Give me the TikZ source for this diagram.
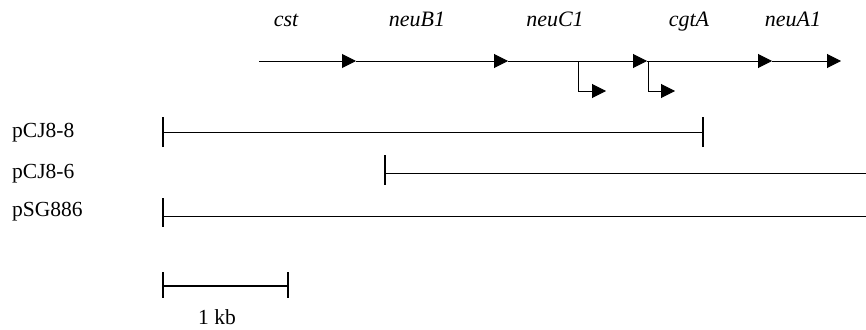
\documentclass[tikz,border=0pt]{standalone}
\usepackage{fontspec}
\setmainfont{Liberation Serif}
\usetikzlibrary{arrows.meta}
\tikzset{
  geneline/.style={line width=1pt,-{Triangle[length=14pt,width=14pt]}},
  plasmid/.style={line width=1pt},
  tick/.style={line width=1.5pt},
  genelabel/.style={font=\fontsize{22}{26}\selectfont\itshape,anchor=base,inner sep=0pt},
  leftlabel/.style={font=\fontsize{21.5}{26}\selectfont,anchor=base west,inner sep=0pt}
}
\begin{document}
\begin{tikzpicture}[x=1pt,y=-1pt]
\useasboundingbox (0,0) rectangle (866,329);
% gene map
\coordinate (g0) at (259,61);
\coordinate (g1) at (356,61);
\coordinate (g2) at (508,61);
\coordinate (g3) at (647,61);
\coordinate (g4) at (772,61);
\coordinate (g5) at (841,61);
\draw[geneline] (g0) -- (g1);
\draw[geneline] (g1) -- (g2);
\draw[geneline] (g2) -- (g3);
\draw[geneline] (g3) -- (g4);
\draw[geneline] (g4) -- (g5);
% promoters
\coordinate (p1a) at (578,61);
\coordinate (p1b) at (606,91);
\coordinate (p2a) at (648,61);
\coordinate (p2b) at (675,91);
\draw[geneline] (p1a) |- (p1b);
\draw[geneline] (p2a) |- (p2b);
% gene labels
\node[genelabel] (cst) at (286,27) {cst};
\node[genelabel] (neuB) at (417,27) {neuB1};
\node[genelabel] (neuC) at (555,27) {neuC1};
\node[genelabel] (cgtA) at (689,27) {cgtA};
\node[genelabel] (neuA) at (793,27) {neuA1};
% plasmids
\node[leftlabel] (l1) at (12,137) {pCJ8-8};
\node[leftlabel] (l2) at (12,178) {pCJ8-6};
\node[leftlabel] (l3) at (12,216) {pSG886};
\coordinate (a1) at (163,132);
\coordinate (b1) at (703,132);
\draw[plasmid] (a1) -- (b1);
\draw[tick] ([yshift=-15pt]a1) -- ([yshift=15pt]a1);
\draw[tick] ([yshift=-15pt]b1) -- ([yshift=15pt]b1);
\coordinate (a2) at (385,173);
\coordinate (b2) at (866,173);
\draw[plasmid] (a2) -- (b2);
\draw[tick] (385,155) -- (385,185);
\coordinate (a3) at (163,216);
\coordinate (b3) at (866,216);
\draw[plasmid] (a3) -- (b3);
\draw[tick] (163,198) -- (163,227);
% scale bar
\coordinate (s1) at (163,286);
\coordinate (s2) at (288,286);
\draw[line width=1.3pt] (s1) -- (s2);
\draw[tick] (163,272) -- (163,298);
\draw[tick] (288,272) -- (288,298);
\node[leftlabel] (kb) at (198,324) {1 kb};
\end{tikzpicture}
\end{document}
